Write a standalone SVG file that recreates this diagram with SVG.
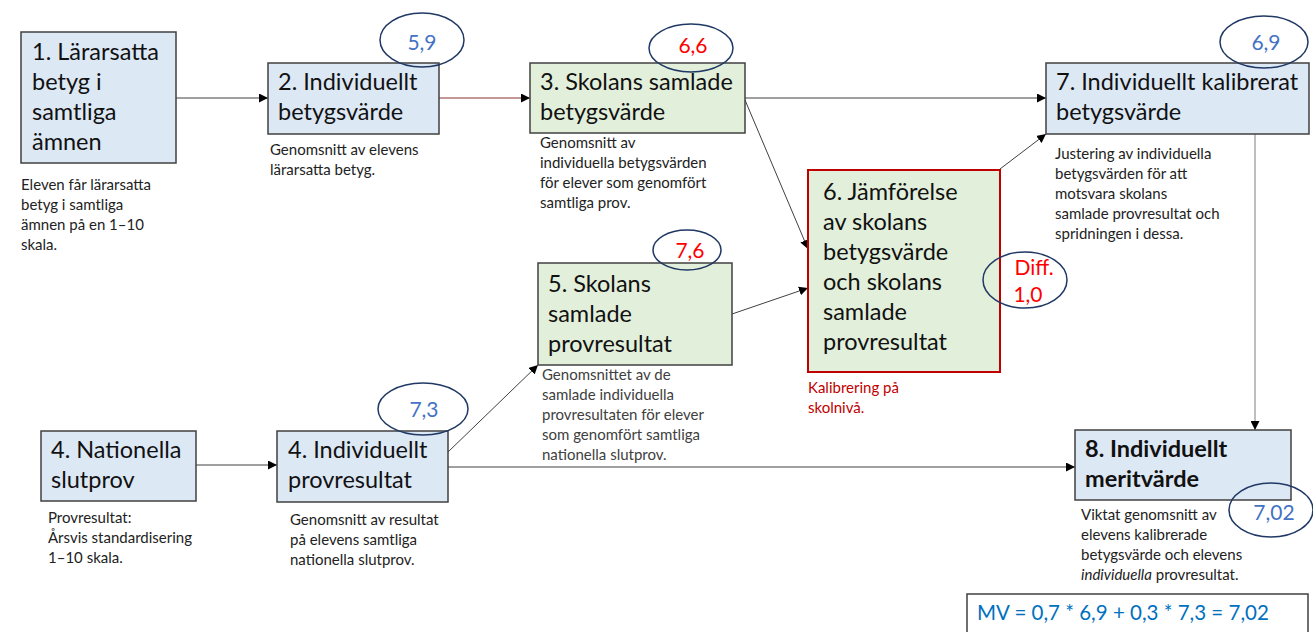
<svg xmlns="http://www.w3.org/2000/svg" width="1313" height="632" viewBox="0 0 1313 632">
<defs>
<marker id="ah" viewBox="0 0 10 10" refX="10" refY="5" markerWidth="9" markerHeight="9" markerUnits="userSpaceOnUse" orient="auto">
<path d="M0,0 L10,5 L0,10 z" fill="#000"/>
</marker>
<style>
.box{stroke:#404040;stroke-width:1.5}
.blue{fill:#dde8f5}
.green{fill:#e2efda}
.t{font-family:Lato,"Liberation Sans",sans-serif;font-size:23.5px;fill:#111}
.d{font-family:Lato,"Liberation Sans",sans-serif;font-size:15px;fill:#222}
.ell{fill:none;stroke:#1f3864;stroke-width:1.5}
.vb{font-family:Lato,"Liberation Sans",sans-serif;font-size:21px;fill:#4472c4;text-anchor:middle}
.vr{font-family:Lato,"Liberation Sans",sans-serif;font-size:21px;fill:#ff0000;text-anchor:middle}
.c{stroke:#404040;stroke-width:1;fill:none;marker-end:url(#ah)}
</style>
</defs>
<rect width="1313" height="632" fill="#fff"/>

<g id="connectors">
<line class="c" x1="176" y1="98" x2="268" y2="98"/>
<line class="c" x1="439" y1="98" x2="530" y2="98" style="stroke:#8b3030"/>
<line class="c" x1="745" y1="98" x2="1046" y2="98"/>
<line class="c" x1="745" y1="100" x2="808" y2="249"/>
<line class="c" x1="732" y1="314" x2="808" y2="288"/>
<line class="c" x1="1000" y1="169" x2="1046" y2="134"/>
<line class="c" x1="1255" y1="134" x2="1255" y2="430" style="stroke:#7f7f7f"/>
<line class="c" x1="196" y1="465" x2="277" y2="465"/>
<line class="c" x1="448" y1="452" x2="538" y2="365"/>
<line class="c" x1="448" y1="467" x2="1075" y2="467"/>
</g>

<g id="node1">
<rect class="box blue" x="21" y="32" width="155" height="131"/>
<text class="t" x="32" y="60">1. Lärarsatta</text>
<text class="t" x="32" y="90">betyg i</text>
<text class="t" x="32" y="120">samtliga</text>
<text class="t" x="32" y="150">ämnen</text>
<text class="d" x="21" y="190">Eleven får lärarsatta</text>
<text class="d" x="21" y="210">betyg i samtliga</text>
<text class="d" x="21" y="230">ämnen på en 1–10</text>
<text class="d" x="21" y="250">skala.</text>
</g>

<g id="node2">
<rect class="box blue" x="268" y="63" width="171" height="71"/>
<text class="t" x="278" y="90">2. Individuellt</text>
<text class="t" x="278" y="120">betygsvärde</text>
<text class="d" x="270" y="155">Genomsnitt av elevens</text>
<text class="d" x="270" y="175">lärarsatta betyg.</text>
<ellipse class="ell" cx="422" cy="40" rx="42" ry="27"/>
<text class="vb" x="422" y="50">5,9</text>
</g>

<g id="node3">
<rect class="box green" x="530" y="63" width="215" height="70"/>
<text class="t" x="540" y="90">3. Skolans samlade</text>
<text class="t" x="540" y="120">betygsvärde</text>
<text class="d" x="540" y="148">Genomsnitt av</text>
<text class="d" x="540" y="168">individuella betygsvärden</text>
<text class="d" x="540" y="188">för elever som genomfört</text>
<text class="d" x="540" y="208">samtliga prov.</text>
<ellipse class="ell" cx="691" cy="48" rx="42" ry="24"/>
<text class="vr" x="693" y="53">6,6</text>
</g>

<g id="node4a">
<rect class="box blue" x="41" y="431" width="155" height="70"/>
<text class="t" x="51" y="458">4. Nationella</text>
<text class="t" x="51" y="488">slutprov</text>
<text class="d" x="48" y="523">Provresultat:</text>
<text class="d" x="48" y="543">Årsvis standardisering</text>
<text class="d" x="48" y="563">1–10 skala.</text>
</g>

<g id="node4b">
<rect class="box blue" x="277" y="431" width="171" height="71"/>
<text class="t" x="288" y="458">4. Individuellt</text>
<text class="t" x="288" y="488">provresultat</text>
<text class="d" x="290" y="525">Genomsnitt av resultat</text>
<text class="d" x="290" y="545">på elevens samtliga</text>
<text class="d" x="290" y="565">nationella slutprov.</text>
<ellipse class="ell" cx="423" cy="409" rx="45" ry="26"/>
<text class="vb" x="424" y="417">7,3</text>
</g>

<g id="node5">
<rect class="box green" x="538" y="263" width="194" height="102"/>
<text class="t" x="548" y="292">5. Skolans</text>
<text class="t" x="548" y="322">samlade</text>
<text class="t" x="548" y="352">provresultat</text>
<text class="d" x="542" y="380" style="fill:#404040">Genomsnittet av de</text>
<text class="d" x="542" y="400" style="fill:#404040">samlade individuella</text>
<text class="d" x="542" y="420" style="fill:#404040">provresultaten för elever</text>
<text class="d" x="542" y="440" style="fill:#404040">som genomfört samtliga</text>
<text class="d" x="542" y="460" style="fill:#404040">nationella slutprov.</text>
<ellipse class="ell" cx="687" cy="250" rx="34" ry="20"/>
<text class="vr" x="690" y="258">7,6</text>
</g>

<g id="node6">
<rect class="green" x="808" y="170" width="192" height="202" stroke="#c00000" stroke-width="2"/>
<text class="t" x="823" y="200">6. Jämförelse</text>
<text class="t" x="823" y="230">av skolans</text>
<text class="t" x="823" y="260">betygsvärde</text>
<text class="t" x="823" y="290">och skolans</text>
<text class="t" x="823" y="320">samlade</text>
<text class="t" x="823" y="350">provresultat</text>
<text class="d" x="808" y="393" style="fill:#c00000">Kalibrering på</text>
<text class="d" x="808" y="413" style="fill:#c00000">skolnivå.</text>
<ellipse class="ell" cx="1025" cy="280" rx="42" ry="28"/>
<text class="vr" x="1034" y="275">Diff.</text>
<text class="vr" x="1028" y="302">1,0</text>
</g>

<g id="node7">
<rect class="box blue" x="1046" y="63" width="263" height="71"/>
<text class="t" x="1056" y="90">7. Individuellt kalibrerat</text>
<text class="t" x="1056" y="120">betygsvärde</text>
<text class="d" x="1055" y="159">Justering av individuella</text>
<text class="d" x="1055" y="179">betygsvärden för att</text>
<text class="d" x="1055" y="199">motsvara skolans</text>
<text class="d" x="1055" y="219">samlade provresultat och</text>
<text class="d" x="1055" y="239">spridningen i dessa.</text>
<ellipse class="ell" cx="1264" cy="42" rx="44" ry="26"/>
<text class="vb" x="1266" y="50">6,9</text>
</g>

<g id="node8">
<rect class="box blue" x="1075" y="430" width="216" height="70"/>
<text class="t" x="1085" y="457" font-weight="bold">8. Individuellt</text>
<text class="t" x="1085" y="487" font-weight="bold">meritvärde</text>
<text class="d" x="1081" y="520">Viktat genomsnitt av</text>
<text class="d" x="1081" y="540">elevens kalibrerade</text>
<text class="d" x="1081" y="560">betygsvärde och elevens</text>
<text class="d" x="1081" y="580"><tspan font-style="italic">individuella</tspan> provresultat.</text>
<ellipse class="ell" cx="1271" cy="510" rx="42" ry="27"/>
<text class="vb" x="1274" y="520">7,02</text>
</g>

<g id="formula">
<rect x="967" y="594" width="341" height="50" fill="#fff" stroke="#404040" stroke-width="1.5"/>
<text x="977" y="620" font-family="Lato,'Liberation Sans',sans-serif" font-size="20.5" fill="#0070c0">MV = 0,7 * 6,9 + 0,3 * 7,3 = 7,02</text>
</g>
</svg>
